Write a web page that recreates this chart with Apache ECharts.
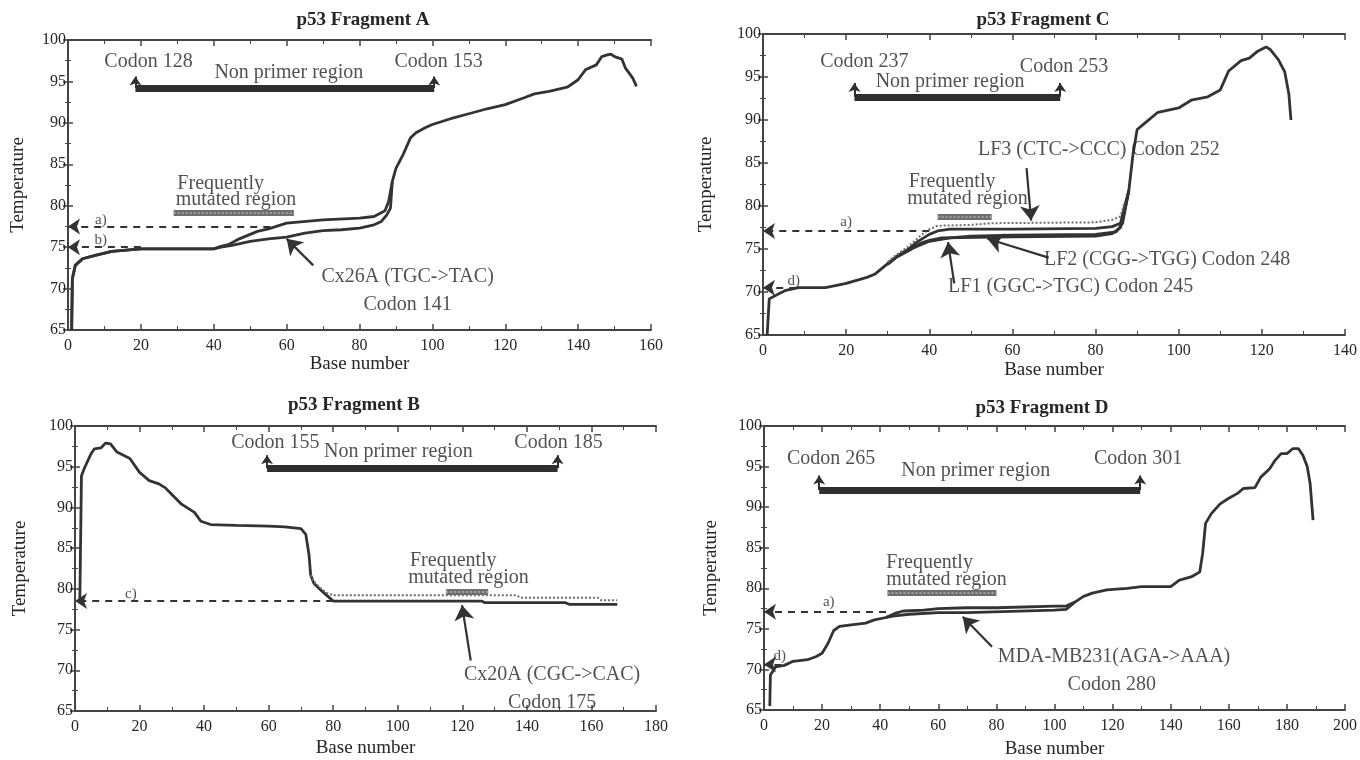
<!DOCTYPE html>
<html>
<head>
<meta charset="utf-8">
<script src="https://cdn.jsdelivr.net/npm/echarts@6/dist/echarts.min.js"></script>
<style>
html,body{margin:0;padding:0;background:#fff;}
#chart{width:1360px;height:760px;}
</style>
</head>
<body>
<div id="chart"></div>
<script>
// ---------------- DATA ----------------
const panelTitles = ['p53 Fragment A', 'p53 Fragment C', 'p53 Fragment B', 'p53 Fragment D'];
const xMax = [160, 140, 180, 200];
const yTicks = [65, 70, 75, 80, 85, 90, 95, 100];

// Fragment A : melting profiles [base, temperature]
const A_wildType = [[1,65],[1.2,71.2],[2,72.8],[4,73.6],[7.5,74],[12,74.5],[20,74.8],[40,74.8],[42,75.1],[44,75.3],[47,76],[52,76.9],[55,77.2],[60,77.9],[70,78.3],[80,78.5],[84,78.7],[87,79.4],[88,80.5],[89,82.9],[90,84.5],[92,86.2],[94,88.2],[95.5,88.8],[98,89.4],[100,89.8],[105,90.5],[110,91.1],[115,91.7],[120,92.2],[125,93],[128,93.5],[132,93.8],[137,94.3],[140,95.2],[142,96.4],[145,97],[146.5,98],[148,98.2],[149,98.3],[150,98],[152,97.7],[153,96.6],[155,95.4],[156,94.4]];
const A_cx26A = [[1,65],[1.2,71.2],[2,72.8],[4,73.6],[7.5,74],[12,74.5],[20,74.8],[40,74.8],[42,75],[45,75.2],[50,75.7],[55,76],[60,76.2],[65,76.7],[70,77],[75,77.1],[80,77.3],[84,77.7],[86,78.1],[87.5,78.9],[88.5,79.7],[89,82.9]];

// Fragment C
const C_wildType = [[1,65],[1.5,69.2],[3,69.6],[5.5,70.2],[8.5,70.5],[15,70.5],[18,70.8],[20,71],[25,71.7],[27,72.1],[30,73.3],[32,74.1],[35,75],[37,75.8],[40,76.7],[42,77.1],[45,77.3],[60,77.3],[80,77.4],[84,77.6],[86,78],[87,80],[88,81.8],[89,86],[90,88.9],[92,89.7],[95,90.9],[100,91.4],[103,92.3],[107,92.7],[110,93.5],[112,95.7],[115,96.9],[117,97.2],[119,98],[121,98.5],[122,98.2],[124,97],[125.5,95.6],[126.5,93],[127,90]];
const C_LF3 = [[30,73.5],[32,74.3],[35,75.3],[38,76.6],[40,77.3],[42,77.7],[50,77.8],[55,78],[80,78.1],[84,78.4],[86,78.8],[87,80.5]];
const C_LF1 = [[30,73.2],[32,74],[35,74.8],[38,75.7],[40,76],[43,76.3],[60,76.4],[80,76.5],[84,76.8],[86,77.5],[87,79.5],[88,81.8]];
const C_LF2 = [[35,74.9],[40,75.9],[45,76.3],[50,76.5],[60,76.6],[80,76.7],[85,77],[86.5,78],[88,81.8]];

// Fragment B
const B_cx20A = [[1.5,78.5],[2,93.9],[3,94.9],[5,96.6],[6,97.2],[8,97.3],[9.5,97.9],[11,97.8],[13,96.8],[15,96.4],[17,96],[20,94.3],[23,93.3],[26,92.9],[28,92.4],[30,91.6],[33,90.4],[37,89.4],[39,88.3],[42,87.9],[50,87.8],[60,87.7],[65,87.6],[70,87.4],[71.5,86.7],[72.5,84.2],[73,81.7],[74,80.7],[76,79.9],[78,79.2],[80,78.5],[126,78.5],[127,78.3],[152,78.3],[153,78.1],[168,78.1]];
const B_wildType = [[73,81.7],[74,80.9],[76,80.1],[78,79.5],[80,79.2],[137,79.2],[138,78.9],[162,78.9],[163,78.6],[168,78.6]];

// Fragment D
const D_wildType = [[2,65.5],[2.2,69.3],[4,70.3],[7,70.5],[10,71],[15,71.2],[18,71.6],[20,72],[22,73.2],[24,74.8],[26,75.3],[30,75.5],[35,75.7],[38,76.1],[42,76.4],[45,76.9],[48,77.2],[55,77.3],[60,77.5],[70,77.6],[80,77.6],[100,77.8],[104,77.8],[107,78.3],[110,79],[113,79.4],[118,79.8],[125,80],[130,80.2],[140,80.2],[143,81],[147,81.4],[150,82],[151,84.3],[152,88],[154,89.2],[157,90.4],[160,91.1],[163,91.7],[165,92.3],[169,92.4],[171,93.7],[174,94.7],[176,95.8],[178,96.6],[180,96.6],[182,97.2],[184,97.2],[185.5,96.4],[187,95],[188,92.9],[189,88.4]];
const D_mda = [[42,76.4],[45,76.6],[50,76.8],[60,77],[70,77],[100,77.3],[104,77.4],[107,78.3]];

// ---------------- ANNOTATIONS ----------------
const ann = [
 { // A
  texts: [['Codon 128',22.1,97.4],['Codon 153',101.7,97.4],['Non primer region',60.6,96.1],['Frequently',41.9,82.7],['mutated region',46.1,80.7],['Cx26A (TGC->TAC)',93.2,71.4],['Codon 141',93.2,68]],
  small: [['a)',9,78.3],['b)',9,75.8]],
  bar: [[18.5,94.2],[100.5,94.2]], barTop: 95.6,
  hatch: [[29,79.2],[62,79.2]],
  dashed: [[[55.5,77.5],[0,77.5]],[[20,75],[0,75]]],
  pointers: [[[67.3,72.8],[60,76]]]
 },
 { // C
  texts: [['Codon 237',24.4,96.8],['Codon 253',72.4,96.2],['Non primer region',45,94.5],['LF3 (CTC->CCC) Codon 252',80.8,86.5],['Frequently',45.5,82.8],['mutated region',49.2,80.9],['LF2 (CGG->TGG) Codon 248',97.2,73.7],['LF1 (GGC->TGC) Codon 245',74,70.6]],
  small: [['a)',20,78.1],['d)',7.4,71.3]],
  bar: [[22,92.7],[71.5,92.7]], barTop: 94.3,
  hatch: [[42,78.7],[55,78.7]],
  dashed: [[[40,77.1],[0,77.1]],[[8,70.5],[0,70.5]]],
  pointers: [[[63.4,84.4],[64.5,78.3]],[[46,71],[44.5,75.8]],[[68.7,74],[54,76.2]]]
 },
 { // B
  texts: [['Codon 155',62.1,98],['Codon 185',149.8,98],['Non primer region',100.2,96.8],['Frequently',117.2,83.4],['mutated region',121.9,81.4],['Cx20A (CGC->CAC)',147.8,69.5],['Codon 175',147.8,66]],
  small: [['c)',17.3,79.4]],
  bar: [[59.5,94.8],[149.5,94.8]], barTop: 96.4,
  hatch: [[115,79.7],[128,79.7]],
  dashed: [[[80,78.5],[0,78.5]]],
  pointers: [[[122.6,71.2],[119.9,78]]]
 },
 { // D
  texts: [['Codon 265',23.1,96],['Codon 301',128.8,96],['Non primer region',72.9,94.5],['Frequently',57,83.1],['mutated region',62.8,81.1],['MDA-MB231(AGA->AAA)',120.5,71.6],['Codon 280',119.7,68.1]],
  small: [['a)',22.3,78.3],['d)',5.4,71.6]],
  bar: [[19,92.1],[129.5,92.1]], barTop: 93.9,
  hatch: [[42.5,79.5],[80,79.5]],
  dashed: [[[42,77.1],[0,77.1]],[[6,70.6],[0,70.6]]],
  pointers: [[[78.5,72.8],[68.4,76.5]]]
 }
];

// ---------------- LAYOUT / STYLE ----------------
const FONT = '"Liberation Serif", "DejaVu Serif", serif';
const INK = '#262626';
const FRAME = '#444';
const grids = [
  {left: 68, top: 40, width: 583, height: 290},
  {left: 763, top: 34, width: 583, height: 301},
  {left: 75, top: 426, width: 581, height: 285},
  {left: 764, top: 426, width: 582, height: 286}
];
const titlePos = [[358, 6], [1038, 6], [349, 391], [1037, 394]];
const xNameGap = [24, 26, 28, 30];
const yNameGap = [40, 47, 45, 43];

const curves = [
  [{d: A_wildType}, {d: A_cx26A}],
  [{d: C_wildType}, {d: C_LF1}, {d: C_LF2}, {d: C_LF3, dotted: true}],
  [{d: B_cx20A}, {d: B_wildType, dotted: true}],
  [{d: D_wildType}, {d: D_mda}]
];

const xAxes = [], yAxes = [], series = [], titles = [];
grids.forEach((g, i) => {
  const axLine = {show: true, lineStyle: {color: FRAME, width: 2}};
  xAxes.push({
    gridIndex: i, type: 'value', min: 0, max: xMax[i], interval: 20, position: 'bottom',
    name: 'Base number', nameLocation: 'middle', nameGap: xNameGap[i],
    nameTextStyle: {fontFamily: FONT, fontSize: 19, color: INK},
    axisLine: axLine, splitLine: {show: false},
    axisTick: {show: true, inside: true, length: 6, lineStyle: {color: FRAME, width: 1.5}},
    minorTick: {show: true, splitNumber: 2, length: 4, lineStyle: {color: FRAME}},
    axisLabel: {fontFamily: FONT, fontSize: 16, color: INK, margin: 8}
  });
  xAxes.push({
    gridIndex: i, type: 'value', min: 0, max: xMax[i], interval: 20, position: 'top',
    axisLine: axLine, splitLine: {show: false}, axisLabel: {show: false},
    axisTick: {show: true, inside: true, length: 6, lineStyle: {color: FRAME, width: 1.5}},
    minorTick: {show: true, splitNumber: 2, length: 4, lineStyle: {color: FRAME}}
  });
  yAxes.push({
    gridIndex: i, type: 'value', min: 65, max: 100, interval: 5, position: 'left',
    name: 'Temperature', nameLocation: 'middle', nameGap: yNameGap[i],
    nameTextStyle: {fontFamily: FONT, fontSize: 19, color: INK},
    axisLine: axLine, splitLine: {show: false},
    axisTick: {show: true, inside: true, length: 5, lineStyle: {color: FRAME, width: 1.5}},
    minorTick: {show: true, splitNumber: 2, length: 3, lineStyle: {color: FRAME}},
    axisLabel: {fontFamily: FONT, fontSize: 16, color: INK, margin: 2,
      formatter: v => yTicks.indexOf(v) >= 0 ? String(v) : ''}
  });
  yAxes.push({
    gridIndex: i, type: 'value', min: 65, max: 100, interval: 5, position: 'right',
    axisLine: axLine, splitLine: {show: false}, axisLabel: {show: false},
    axisTick: {show: true, inside: true, length: 5, lineStyle: {color: FRAME, width: 1.5}},
    minorTick: {show: true, splitNumber: 2, length: 3, lineStyle: {color: FRAME}}
  });
  titles.push({
    text: panelTitles[i], left: titlePos[i][0], top: titlePos[i][1], textAlign: 'center',
    textStyle: {fontFamily: FONT, fontSize: 19, fontWeight: 'bold', color: INK}
  });

  const xi = i * 2, yi = i * 2;
  curves[i].forEach(c => {
    series.push({
      type: 'line', xAxisIndex: xi, yAxisIndex: yi, data: c.d, symbol: 'none',
      animation: false, silent: true, z: c.dotted ? 4 : 3,
      lineStyle: c.dotted ? {color: '#6e6e6e', width: 2, type: [2, 2]} : {color: '#333', width: 2.8}
    });
  });

  const a = ann[i];
  const linesBase = {type: 'lines', coordinateSystem: 'cartesian2d', xAxisIndex: xi, yAxisIndex: yi,
    animation: false, silent: true, clip: false, z: 5};
  // non primer region bar
  series.push(Object.assign({}, linesBase, {
    data: [{coords: a.bar}], symbol: 'none',
    lineStyle: {color: '#2e2e2e', width: 7, opacity: 1, curveness: 0}
  }));
  // up arrows at bar ends
  series.push(Object.assign({}, linesBase, {
    data: [{coords: [a.bar[0], [a.bar[0][0], a.barTop]]}, {coords: [a.bar[1], [a.bar[1][0], a.barTop]]}],
    symbol: ['none', 'arrow'], symbolSize: 9,
    lineStyle: {color: '#2e2e2e', width: 2, opacity: 1}
  }));
  // frequently mutated region hatched bar
  series.push(Object.assign({}, linesBase, {
    data: [{coords: a.hatch}], symbol: 'none',
    lineStyle: {color: '#6f6f6f', width: 6, opacity: 1}
  }));
  series.push(Object.assign({}, linesBase, {
    data: [{coords: a.hatch}], symbol: 'none', z: 6,
    lineStyle: {color: '#a0a0a0', width: 2, type: [2, 2], opacity: 1}
  }));
  // dashed reference arrows
  series.push(Object.assign({}, linesBase, {
    data: a.dashed.map(c => ({coords: c})), symbol: ['none', 'arrow'], symbolSize: [10, 12],
    lineStyle: {color: '#333', width: 2, type: [7, 6], opacity: 1}
  }));
  // pointer arrows
  series.push(Object.assign({}, linesBase, {
    data: a.pointers.map(c => ({coords: c})), symbol: ['none', 'arrow'], symbolSize: [11, 15],
    lineStyle: {color: '#333', width: 2.2, opacity: 1}
  }));
  // texts
  const textSeries = (items, size) => ({
    type: 'scatter', xAxisIndex: xi, yAxisIndex: yi, symbolSize: 1, silent: true,
    animation: false, clip: false, z: 8,
    itemStyle: {color: 'rgba(0,0,0,0)'},
    label: {show: true, position: 'inside', fontFamily: FONT, fontSize: size, color: INK},
    data: items.map(t => ({value: [t[1], t[2]], label: {formatter: t[0]}}))
  });
  series.push(textSeries(a.texts, 20));
  series.push(textSeries(a.small, 15));
});

const chart = echarts.init(document.getElementById('chart'), null, {renderer: 'canvas'});
chart.setOption({
  backgroundColor: '#ffffff',
  animation: false,
  title: titles,
  grid: grids,
  xAxis: xAxes,
  yAxis: yAxes,
  series: series
});
</script>
</body>
</html>
